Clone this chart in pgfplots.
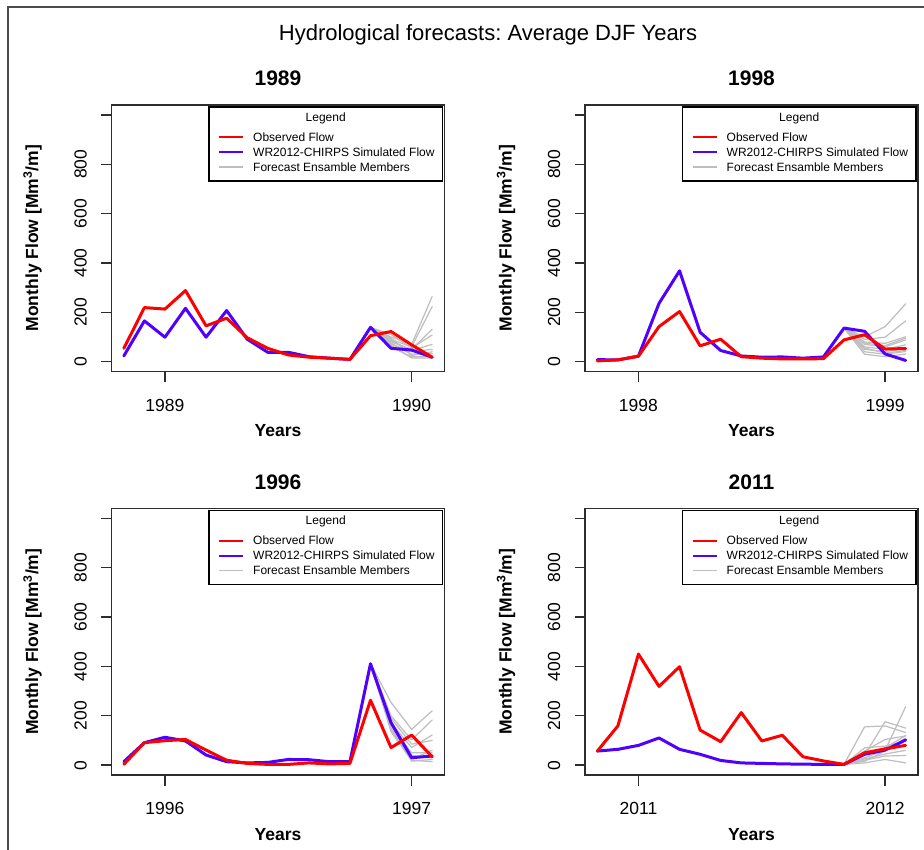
\documentclass[border=0pt]{standalone}
\usepackage{fontspec}
\setmainfont{Liberation Sans}
\usepackage{pgfplots}
\pgfplotsset{compat=1.18}
\usepackage{pgfplotstable}
\frenchspacing

\definecolor{obs}{RGB}{255,0,0}
\definecolor{sim}{RGB}{80,0,255}
\definecolor{ens}{RGB}{190,190,190}
\definecolor{frm}{RGB}{45,45,45}

% ---------- data (x = month index, 0 = Nov of previous year) ----------
\pgfplotstableread{
m obs sim
0 54 23
1 219 165
2 213 99
3 288 216
4 145 99
5 176 207
6 97 91
7 54 38
8 27 38
9 18 20
10 14 14
11 9 9
12 105 139
13 122 54
14 68 47
15 18 18
}\tabA
\pgfplotstableread{
m e1 e2 e3 e4 e5 e6 e7 e8 e9 e10
12 139 139 139 139 139 139 139 139 139 139
13 100 90 80 110 70 75 60 65 85 95
14 70 60 50 55 40 30 20 15 45 25
15 264 223 131 108 50 34 20 14 70 40
}\ensA

\pgfplotstableread{
m obs sim
0 3 8
1 7 7
2 22 22
3 142 236
4 203 368
5 64 119
6 91 45
7 20 23
8 14 18
9 11 19
10 11 14
11 12 19
12 88 136
13 109 123
14 51 31
15 53 5
}\tabB
\pgfplotstableread{
m e1 e2 e3 e4 e5 e6 e7 e8 e9 e10
12 136 136 136 136 136 136 136 136 136 136
13 100 90 80 70 60 50 40 30 75 55
14 142 99 74 60 50 40 30 20 65 35
15 234 165 101 88 68 54 41 31 95 45
}\ensB

\pgfplotstableread{
m obs sim
0 3 14
1 91 91
2 99 113
3 104 98
4 61 41
5 20 14
6 7 9
7 3 11
8 3 23
9 9 22
10 5 14
11 7 14
12 263 411
13 71 172
14 122 30
15 34 37
}\tabC
\pgfplotstableread{
m e1 e2 e3 e4 e5 e6 e7 e8 e9 e10
12 411 411 411 411 411 411 411 411 411 411
13 254 200 172 160 150 145 135 165 190 140
14 145 102 71 50 30 16 20 40 85 25
15 220 183 122 50 37 23 14 30 100 60
}\ensC

\pgfplotstableread{
m obs sim
0 57 57
1 159 64
2 450 80
3 319 110
4 399 64
5 142 44
6 95 19
7 213 9
8 98 7
9 121 5
10 34 4
11 17 3
12 3 3
13 50 44
14 66 61
15 80 102
}\tabD
\pgfplotstableread{
m e1 e2 e3 e4 e5 e6 e7 e8 e9 e10
12 3 3 3 3 3 3 3 3 3 3
13 155 40 30 57 70 20 9 16 43 25
14 159 176 60 104 77 37 23 57 70 45
15 132 150 237 118 98 39 9 110 120 60
}\ensD

\pgfplotsset{panel/.style={
  scale only axis, width=333pt, height=266.5pt,
  anchor=south west,
  xmin=-0.6, xmax=15.6, ymin=-40, ymax=1040,
  axis line style={frm, line width=1.3pt},
  xtick pos=bottom, ytick pos=left, tick align=outside,
  major tick length=10.5pt,
  every tick/.style={frm, line width=1.3pt},
  xtick={2,14},
  ytick={0,200,400,600,800,1000},
  yticklabels={0,200,400,600,800,{}},
  /pgf/number format/assume math mode=true,
  tick label style={font=\fontsize{17.5}{20}\selectfont},
  xticklabel style={anchor=north, inner sep=0pt, yshift=-17pt},
  yticklabel style={rotate=90, anchor=south, inner xsep=0pt, inner ysep=14pt},
  xlabel={\textbf{Years}},
  xlabel style={at={(axis description cs:0.5,-0.199)}, anchor=north, inner sep=0pt, font=\fontsize{17.5}{20}\selectfont},
  ylabel={\textbf{Monthly Flow [Mm\textsuperscript{3}/m]}},
  ylabel style={at={(axis description cs:-0.2087,0.5)}, anchor=south, inner sep=0pt, font=\fontsize{17.5}{20}\selectfont},
  title style={at={(axis description cs:0.5,1.0488)}, anchor=south, inner sep=0pt, font=\fontsize{21}{24}\selectfont\bfseries},
  clip=true,
}}
\tikzset{
  ensl/.style={ens, line width=1.2pt, line join=round, line cap=round},
  siml/.style={sim, line width=3pt, line join=round, line cap=round},
  obsl/.style={obs, line width=3pt, line join=round, line cap=round},
}

\newcommand{\panelplots}[2]{%
  \pgfplotsinvokeforeach{1,...,10}{\addplot[ensl] table[x=m,y=e##1]{#2};}
  \addplot[siml] table[x=m,y=sim]{#1};
  \addplot[obsl] table[x=m,y=obs]{#1};
}

% legend box: #1 = left px of plot box, #2 = top px of plot box
\newcommand{\mylegend}[2]{%
  \begin{scope}[shift={(#1pt+97.5pt,-#2pt-2pt)}, font=\fontsize{12}{14}\selectfont]
    \fill[white] (0,0) rectangle (233.5pt,-74pt);
    \draw[black, line width=1.3pt] (0,0) rectangle (233.5pt,-74pt);
    \node[anchor=center, inner sep=0pt] at (116.75pt,-11pt) {Legend};
    \draw[obs, line width=2pt] (10pt,-30pt) -- (34pt,-30pt);
    \draw[sim, line width=2pt] (10pt,-45pt) -- (34pt,-45pt);
    \draw[ens, line width=1.5pt] (10pt,-60pt) -- (34pt,-60pt);
    \node[anchor=west, inner sep=0pt] at (44pt,-30pt) {Observed Flow};
    \node[anchor=west, inner sep=0pt] at (44pt,-45pt) {WR2012-CHIRPS Simulated Flow};
    \node[anchor=west, inner sep=0pt] at (44pt,-60pt) {Forecast Ensamble Members};
  \end{scope}}

\begin{document}
\begin{tikzpicture}
\useasboundingbox[fill=white] (0,0) rectangle (924pt,-850pt);
\draw[frm!85, line width=1.5pt] (8pt,-7pt) rectangle (960pt,-900pt);
\node[anchor=base, inner sep=0pt, font=\fontsize{22}{26}\selectfont] at (488pt,-40.7pt) {Hydrological forecasts: Average DJF Years};

\begin{axis}[panel, at={(111.5pt,-371.5pt)}, title={1989}, xticklabels={1989,1990}]
\panelplots{\tabA}{\ensA}
\end{axis}
\begin{axis}[panel, at={(585pt,-371.5pt)}, title={1998}, xticklabels={1998,1999}]
\panelplots{\tabB}{\ensB}
\end{axis}
\begin{axis}[panel, at={(111.5pt,-775pt)}, title={1996}, xticklabels={1996,1997}]
\panelplots{\tabC}{\ensC}
\end{axis}
\begin{axis}[panel, at={(585pt,-775pt)}, title={2011}, xticklabels={2011,2012}]
\panelplots{\tabD}{\ensD}
\end{axis}

\mylegend{111.5}{105}
\mylegend{585}{105}
\mylegend{111.5}{508.5}
\mylegend{585}{508.5}
\end{tikzpicture}
\end{document}
